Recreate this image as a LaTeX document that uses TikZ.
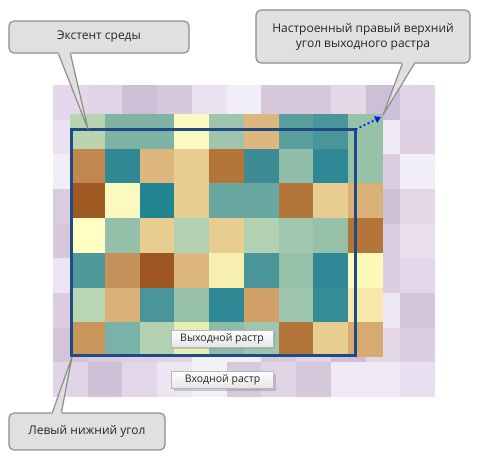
\documentclass[tikz,border=0pt]{standalone}
\usepackage{fontspec}
\setmainfont{Open Sans}
\usetikzlibrary{calc,shadows,arrows.meta}
\definecolor{calloutfill}{HTML}{E0E0E0}
\definecolor{calloutline}{HTML}{8E8E8E}
\definecolor{outblue}{HTML}{1F4A82}
\definecolor{dotblue}{HTML}{0A14F0}

\begin{document}
\begin{tikzpicture}[x=1pt,y=-1pt,
		callout/.style={draw=calloutline,fill=calloutfill,line width=1.2pt,rounded corners=5pt,
			font=\fontsize{12}{15}\selectfont,text=black!85,inner sep=0pt,align=center},
		tail/.style={fill=calloutfill},
		tailline/.style={draw=calloutline,line width=1.2pt},
		tag/.style={draw=gray!55,top color=white,bottom color=gray!20,
			drop shadow={shadow xshift=2pt,shadow yshift=-2pt,opacity=0.35},
			font=\fontsize{10.5}{12}\selectfont,text=black!85,inner sep=0pt,
			minimum width=102pt,minimum height=17pt},
		outline/.style={draw=outblue,line width=3pt},
		corner arrow/.style={draw=dotblue,line width=1.6pt,dash pattern=on 2pt off 2.5pt,
			-{Triangle[length=6pt,width=7pt]}}]
	\useasboundingbox (0,0) rectangle (479,459);
	% input raster (background)
	\foreach \row [count=\r from 0] in {
		{E3D7E9,E0D4E6,CDBFD6,D6C9DC,EAE2F0,F2EEF8,D6C9DC,D6C9DC,E4D8E8,CDBFD6,E0D4E6},
		{EAE2F0,E0D4E6,E0D4E6,E0D4E6,E0D4E6,E0D4E6,E0D4E6,E0D4E6,E0D4E6,F0EAF6,DDD0E2},
		{F2EEF8,E0D4E6,E0D4E6,E0D4E6,E0D4E6,E0D4E6,E0D4E6,E0D4E6,E0D4E6,DCCDE0,F2EEF8},
		{D9CCE0,E0D4E6,E0D4E6,E0D4E6,E0D4E6,E0D4E6,E0D4E6,E0D4E6,E0D4E6,CDBFD6,E4D8E8},
		{D5C8DB,E0D4E6,E0D4E6,E0D4E6,E0D4E6,E0D4E6,E0D4E6,E0D4E6,E0D4E6,D9CCE0,E8DEEE},
		{ECE4F2,E0D4E6,E0D4E6,E0D4E6,E0D4E6,E0D4E6,E0D4E6,E0D4E6,E0D4E6,DCCDE0,E2D6E8},
		{DCCDE0,E0D4E6,E0D4E6,E0D4E6,E0D4E6,E0D4E6,E0D4E6,E0D4E6,E0D4E6,EEE8F4,D3C4DA},
		{D3C4DA,D9CCE0,DCD0E2,E0D4E6,F2EEF8,F4F0FA,D6C9DC,E0D4E6,CDBFD6,E4D8E8,DCCDE0},
		{E0D4E6,CFC2D8,E2D6E8,ECE6F2,F4F0FA,D6C9DC,E0D4E6,D6C9DC,F0EAF6,F0EAF6,E8E0F0}}{
		\foreach \c [count=\k from 0] in \row {
			\definecolor{cell}{HTML}{\c}
			\fill[cell] (53+34.73*\k,85+34.67*\r) rectangle +(35,35);
		}
	}
	% output raster
	\foreach \row [count=\r from 0] in {
		{B8D4B0,7FB3A6,7FB3A6,FCF9C0,9FC5AE,DDB77E,5A9E9E,4A9599,96C2A8},
		{C0884E,2F8894,DDB77E,E8CD90,B37539,3D8B94,90BEA8,2E8896,96C2A8},
		{A05B25,FBF8C0,238592,E8CD90,68A8A0,68A8A0,B37539,E8CD90,DAB176},
		{FFFFC4,94BFA8,E8CD90,B2D1B2,E8CD90,B2D1B2,A0C6AE,96C0A8,B37539},
		{50999A,C6915A,9E5723,DDB77E,F6EFB0,4A9599,96C0A8,2E8896,FCF8BA},
		{B8D6B2,DAB176,4A9599,96C0A8,2E8896,D1A068,9EC6AE,358C94,F6E8A8},
		{C6965C,78B2A8,B2D1B2,E6EEB8,8DBBA8,9EC6AE,B37539,E8CD90,D6AA70}}{
		\foreach \c [count=\k from 0] in \row {
			\definecolor{cell}{HTML}{\c}
			\fill[cell] (70+34.78*\k,114+34.71*\r) rectangle +(35.1,35.1);
		}
	}
	\coordinate (outLL) at (71.5,355.5);
	\coordinate (outUR) at (355.5,129.5);
	\coordinate (inUR) at (381,117);
	\draw[outline] (outLL) rectangle (outUR);
	\draw[corner arrow] (outUR) -- (inUR);
	
	\node[tag] (outlabel) at (222,338.5) {Выходной растр};
	\node[tag] (inlabel) at (222.5,380) {Входной растр};
	
	% callouts
	\node[callout,minimum width=180pt,minimum height=32pt] (extent) at (99,37) {Экстент среды};
	\node[callout,minimum width=214pt,minimum height=53pt] (tuned) at (363,36.5)
		{Настроенный правый верхний\\угол выходного растра};
	\node[callout,minimum width=156pt,minimum height=37pt] (lowleft) at (87,431.5) {Левый нижний угол};
	
	\coordinate (extentTip) at (88,129);
	\coordinate (tunedTip) at (383,115);
	\coordinate (lowleftTip) at (72,357);
	
	\fill[tail] ($(extent.south west)+(50,-1.5)$) -- (extentTip) -- ($(extent.south west)+(62,-1.5)$) -- cycle;
	\draw[tailline] ($(extent.south west)+(50,0)$) -- (extentTip) -- ($(extent.south west)+(62,0)$);
	\fill[tail] ($(tuned.south west)+(147,-1.5)$) -- (tunedTip) -- ($(tuned.south west)+(159,-1.5)$) -- cycle;
	\draw[tailline] ($(tuned.south west)+(147,0)$) -- (tunedTip) -- ($(tuned.south west)+(159,0)$);
	\fill[tail] ($(lowleft.north west)+(44,1.5)$) -- (lowleftTip) -- ($(lowleft.north west)+(53,1.5)$) -- cycle;
	\draw[tailline] ($(lowleft.north west)+(44,0)$) -- (lowleftTip) -- ($(lowleft.north west)+(53,0)$);
\end{tikzpicture}
\end{document}
